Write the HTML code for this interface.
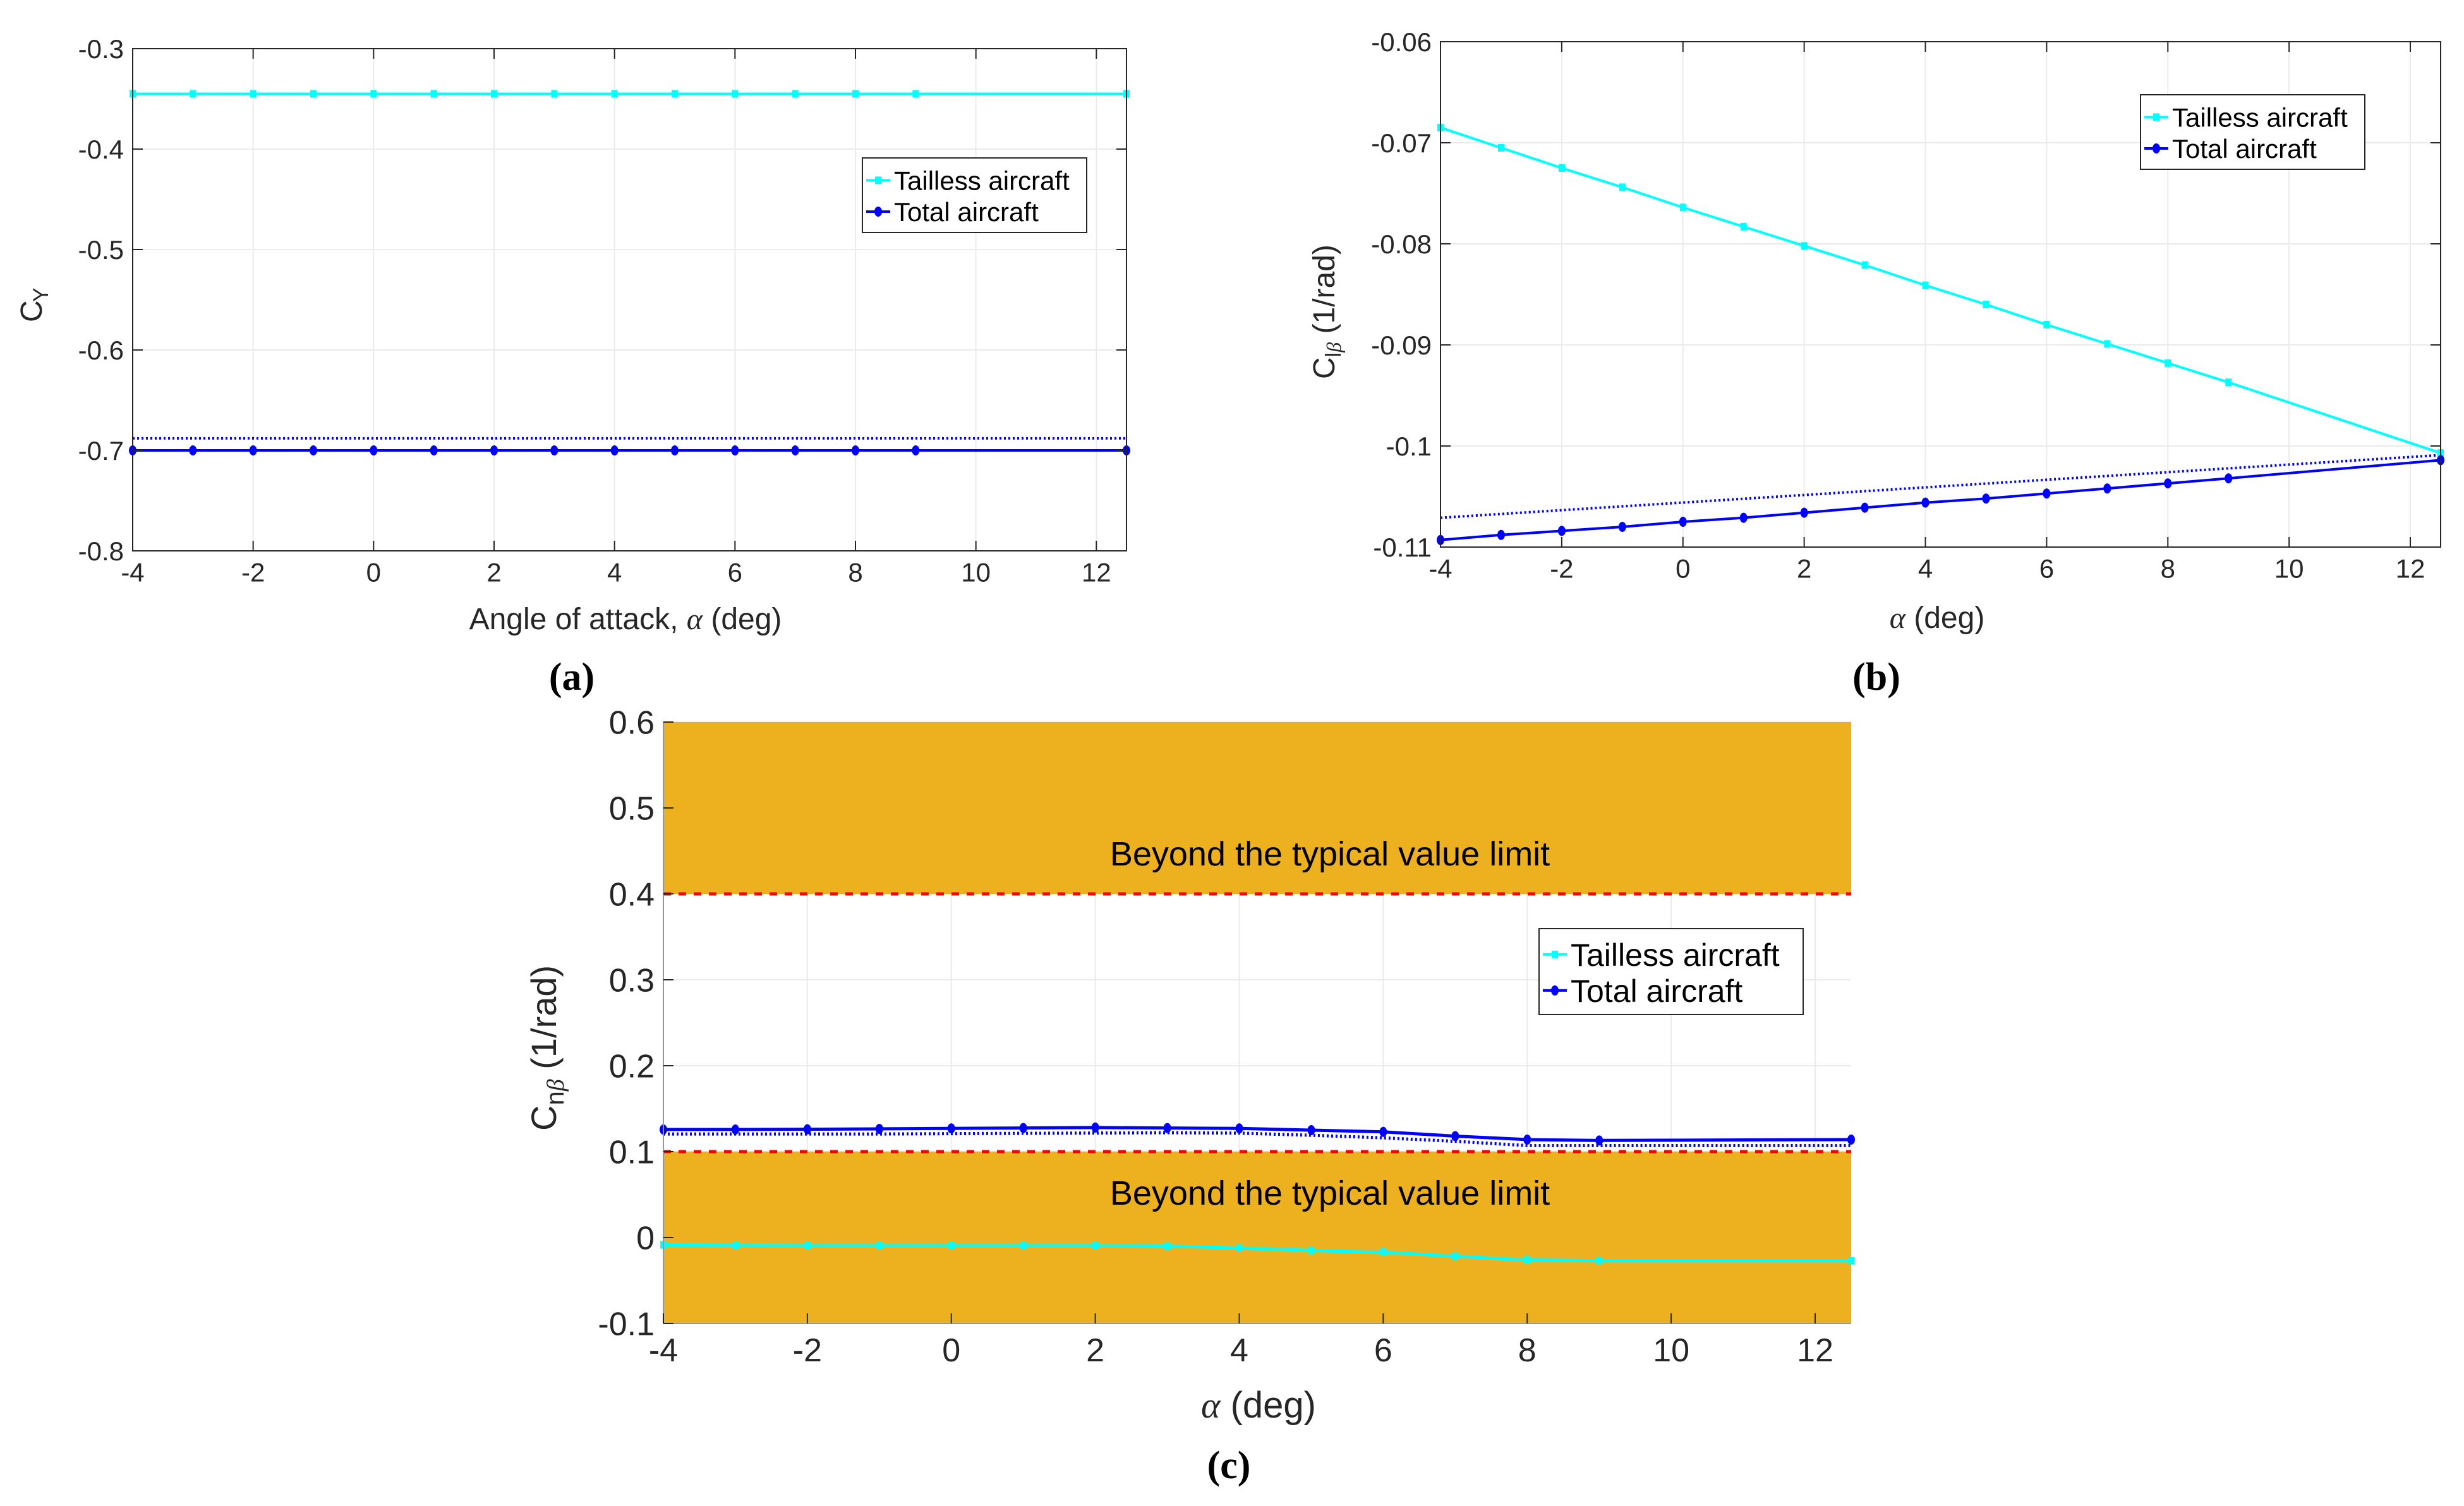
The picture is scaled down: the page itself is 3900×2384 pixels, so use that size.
<!DOCTYPE html>
<html><head><meta charset="utf-8"><style>
body{margin:0;background:#fff;}
svg{display:block;font-family:"Liberation Sans",sans-serif;}
</style></head><body>
<svg id="fig" width="3900" height="2384" viewBox="0 0 3900 2384" xmlns="http://www.w3.org/2000/svg"></svg>
<script>
// ---- data ----
const alphaInt = [-4,-3,-2,-1,0,1,2,3,4,5,6,7,8,9,12.5];
const alphaLine = [-4,12.5];
const xTicks = [-4,-2,0,2,4,6,8,10,12];
// panel a
const cyTailless = [-0.345,-0.345,-0.345,-0.345,-0.345,-0.345,-0.345,-0.345,-0.345,-0.345,-0.345,-0.345,-0.345,-0.345,-0.345];
const cyTotal = [-0.700,-0.700,-0.700,-0.700,-0.700,-0.700,-0.700,-0.700,-0.700,-0.700,-0.700,-0.700,-0.700,-0.700,-0.700];
const cyDotted = [-0.688,-0.688];
const aYTicks = [-0.8,-0.7,-0.6,-0.5,-0.4,-0.3];
const aYLabels = ["-0.8","-0.7","-0.6","-0.5","-0.4","-0.3"];
// panel b
const clbTailless = [-0.0685,-0.0705,-0.0725,-0.0744,-0.0764,-0.0783,-0.0802,-0.0821,-0.0841,-0.0860,-0.0880,-0.0899,-0.0918,-0.0937,-0.1007];
const clbTotal = [-0.1093,-0.1088,-0.1084,-0.1080,-0.1075,-0.1071,-0.1066,-0.1061,-0.1056,-0.1052,-0.1047,-0.1042,-0.1037,-0.1032,-0.1014];
const clbDotted = [-0.1071,-0.1009];
const bYTicks = [-0.11,-0.1,-0.09,-0.08,-0.07,-0.06];
const bYLabels = ["-0.11","-0.1","-0.09","-0.08","-0.07","-0.06"];
// panel c
const cnbTailless = [-0.0085,-0.0088,-0.009,-0.009,-0.009,-0.009,-0.009,-0.010,-0.012,-0.015,-0.017,-0.0217,-0.026,-0.027,-0.027];
const cnbTotal = [0.1257,0.1257,0.126,0.1265,0.127,0.1275,0.128,0.1275,0.127,0.125,0.123,0.118,0.114,0.113,0.114];
const alphaDotC = [-4,-1,3,4,5,6,7,8,12.5];
const cnbDotted = [0.1205,0.1205,0.122,0.1215,0.119,0.116,0.112,0.107,0.107];
const cYTicks = [-0.1,0,0.1,0.2,0.3,0.4,0.5,0.6];
const cYLabels = ["-0.1","0","0.1","0.2","0.3","0.4","0.5","0.6"];
const limitLow = 0.1, limitHigh = 0.4;

const NS="http://www.w3.org/2000/svg";
const svg=document.getElementById('fig');
function mk(tag,attrs,parent){const e=document.createElementNS(NS,tag);for(const k in attrs)e.setAttribute(k,attrs[k]);(parent||svg).appendChild(e);return e;}
function txt(s,attrs,parent){const e=mk('text',attrs,parent);e.textContent=s;return e;}

function axes(p){
  const sx=v=>p.l+(v-p.x0)/(p.x1-p.x0)*(p.r-p.l);
  const sy=v=>p.b-(v-p.y0)/(p.y1-p.y0)*(p.b-p.t);
  return {sx,sy};
}
function grid(g,p,A,yTicks,fs){
  xTicks.forEach(v=>{const x=A.sx(v);
    const gl=mk('line',{x1:x,x2:x,y1:p.t,y2:p.b,stroke:'#ebebeb','stroke-width':2},g);
    
    
  });
  yTicks.forEach(v=>{const y=A.sy(v);
    const gl=mk('line',{x1:p.l,x2:p.r,y1:y,y2:y,stroke:'#ebebeb','stroke-width':2},g);
    
    
  });
}
function ticks(g,p,A,yTicks,yLabels,fs,box){
  const col='#262626';
  xTicks.forEach(v=>{const x=A.sx(v);
    mk('line',{x1:x,x2:x,y1:p.b,y2:p.b-16,stroke:col,'stroke-width':2},g);
    if(box) mk('line',{x1:x,x2:x,y1:p.t,y2:p.t+16,stroke:col,'stroke-width':2},g);
    const t=txt(String(v),{x:x,y:p.b+fs*1.15,'font-size':fs,'text-anchor':'middle',fill:col},g);
    
    
  });
  yTicks.forEach((v,i)=>{const y=A.sy(v);
    mk('line',{x1:p.l,x2:p.l+16,y1:y,y2:y,stroke:col,'stroke-width':2},g);
    if(box) mk('line',{x1:p.r,x2:p.r-16,y1:y,y2:y,stroke:col,'stroke-width':2},g);
    const t=txt(yLabels[i],{x:p.l-14,y:y+fs*0.36,'font-size':fs,'text-anchor':'end',fill:col},g);
    
    
  });
}
function series(g,A,xs,ys,color,marker,name,w){
  const pts=xs.map((x,i)=>A.sx(x)+','+A.sy(ys[i])).join(' ');
  const pl=mk('polyline',{points:pts,fill:'none',stroke:color,'stroke-width':w||4,'stroke-linejoin':'round'},g);
  
  
  if(marker){
    xs.forEach((x,i)=>{
      let m;
      if(marker==='sq') m=mk('rect',{x:A.sx(x)-5,y:A.sy(ys[i])-6,width:10,height:12,fill:color},g);
      else m=mk('ellipse',{cx:A.sx(x),cy:A.sy(ys[i]),rx:6,ry:8,fill:color},g);
      
      
    });
  }
}
function dotted(g,A,xs,ys,name,w){
  const pts=xs.map((x,i)=>A.sx(x)+','+A.sy(ys[i])).join(' ');
  const pl=mk('polyline',{points:pts,fill:'none',stroke:'#0000ff','stroke-width':w||4,'stroke-dasharray':'3 4'},g);
  
  
}
function legend(g,x,y,w,h,fs,rows){
  const bx=mk('rect',{x:x,y:y,width:w,height:h,fill:'#fff',stroke:'#262626','stroke-width':2},g);
  
  
  rows.forEach((r,i)=>{
    const cy=y+h*(i===0?0.3:0.72);
    const lg=mk('g',{},g);
    
    
    mk('line',{x1:x+6,x2:x+44,y1:cy,y2:cy,stroke:r.c,'stroke-width':4},lg);
    if(r.m==='sq') mk('rect',{x:x+20,y:cy-6,width:10,height:12,fill:r.c},lg);
    else mk('ellipse',{cx:x+25,cy:cy,rx:6,ry:8,fill:r.c},lg);
    txt(r.t,{x:x+50,y:cy+fs*0.36,'font-size':fs,fill:'#000'},lg);
  });
}

// ===== Panel a =====
(function(){
  const p={l:210,r:1783,t:77,b:872,x0:-4,x1:12.5,y0:-0.8,y1:-0.3};
  const A=axes(p);
  const g=mk('g',{});
  
  
  grid(g,p,A,aYTicks);
  dotted(g,A,alphaLine,cyDotted,'total-dotted-line');
  series(g,A,alphaInt,cyTailless,'#00ffff','sq','tailless');
  series(g,A,alphaInt,cyTotal,'#0000ff','o','total');
  const fr=mk('rect',{x:p.l,y:p.t,width:p.r-p.l,height:p.b-p.t,fill:'none',stroke:'#262626','stroke-width':2},g);
   
  ticks(g,p,A,aYTicks,aYLabels,42,true);
  const yl=txt('C',{x:0,y:0,'font-size':48,fill:'#262626',transform:'translate(66,510) rotate(-90)'},g);
   
  const ys=txt('Y',{x:0,y:0,'font-size':34,fill:'#262626',transform:'translate(76,478) rotate(-90)'},g);
   
  const xl=txt('',{x:990,y:996,'font-size':48,'text-anchor':'middle',fill:'#262626'},g);
  xl.innerHTML='Angle of attack, <tspan font-family="Liberation Serif" font-style="italic">α</tspan> (deg)';
   
  legend(g,1365,250,355,118,42,[{t:'Tailless aircraft',c:'#00ffff',m:'sq'},{t:'Total aircraft',c:'#0000ff',m:'o'}]);
  const pl=txt('(a)',{x:905,y:1092,'font-size':62,'font-weight':'bold','font-family':'Liberation Serif','text-anchor':'middle',fill:'#000'},g);
   
})();

// ===== Panel b =====
(function(){
  const p={l:2280,r:3863,t:66,b:866,x0:-4,x1:12.5,y0:-0.11,y1:-0.06};
  const A=axes(p);
  const g=mk('g',{});
  
  
  grid(g,p,A,bYTicks);
  dotted(g,A,alphaLine,clbDotted,'total-dotted-line');
  series(g,A,alphaInt,clbTailless,'#00ffff','sq','tailless');
  series(g,A,alphaInt,clbTotal,'#0000ff','o','total');
  const fr=mk('rect',{x:p.l,y:p.t,width:p.r-p.l,height:p.b-p.t,fill:'none',stroke:'#262626','stroke-width':2},g);
   
  ticks(g,p,A,bYTicks,bYLabels,42,true);
  const yl=txt('',{x:0,y:0,'font-size':48,fill:'#262626',transform:'translate(2112,600) rotate(-90)'},g);
  yl.innerHTML='C<tspan font-size="34" dy="10">l</tspan><tspan font-size="32" dy="0" font-family="Liberation Serif" font-style="italic">β</tspan><tspan dy="-10"> (1/rad)</tspan>';
   
  const xl=txt('',{x:3066,y:994,'font-size':48,'text-anchor':'middle',fill:'#262626'},g);
  xl.innerHTML='<tspan font-family="Liberation Serif" font-style="italic">α</tspan> (deg)';
   
  legend(g,3388,150,355,118,42,[{t:'Tailless aircraft',c:'#00ffff',m:'sq'},{t:'Total aircraft',c:'#0000ff',m:'o'}]);
  const pl=txt('(b)',{x:2970,y:1092,'font-size':62,'font-weight':'bold','font-family':'Liberation Serif','text-anchor':'middle',fill:'#000'},g);
   
})();

// ===== Panel c =====
(function(){
  const p={l:1050,r:2930,t:1143,b:2095,x0:-4,x1:12.5,y0:-0.1,y1:0.6};
  const A=axes(p);
  const g=mk('g',{});
  
  
  grid(g,p,A,cYTicks);
  const hi=mk('rect',{x:p.l,y:A.sy(p.y1),width:p.r-p.l,height:A.sy(limitHigh)-A.sy(p.y1),fill:'#EDB120'},g);
   
  const lo=mk('rect',{x:p.l,y:A.sy(limitLow),width:p.r-p.l,height:A.sy(p.y0)-A.sy(limitLow),fill:'#EDB120'},g);
   
  [limitHigh,limitLow].forEach(v=>{
    const l=mk('line',{x1:p.l,x2:p.r,y1:A.sy(v),y2:A.sy(v),stroke:'#ff0000','stroke-width':5,'stroke-dasharray':'12 12'},g);
     
  });
  dotted(g,A,alphaDotC,cnbDotted,'total-dotted-line',5);
  series(g,A,alphaInt,cnbTailless,'#00ffff','sq','tailless',5);
  series(g,A,alphaInt,cnbTotal,'#0000ff','o','total',5);
  mk('line',{x1:p.l,x2:p.l,y1:p.t,y2:p.b,stroke:'#999','stroke-width':2},g);
  mk('line',{x1:p.l,x2:p.r,y1:p.b,y2:p.b,stroke:'#999','stroke-width':2},g);
  ticks(g,p,A,cYTicks,cYLabels,52,false);
  [A.sy(0.5)+ (A.sy(limitHigh)-A.sy(0.5))*0.55, A.sy(0.05)].forEach(y=>{
    const t=txt('Beyond the typical value limit',{x:2105,y:y+16,'font-size':54,'text-anchor':'middle',fill:'#000'},g);
     
  });
  const yl=txt('',{x:0,y:0,'font-size':56,fill:'#262626',transform:'translate(880,1790) rotate(-90)'},g);
  yl.innerHTML='C<tspan font-size="40" dy="12">n</tspan><tspan font-size="38" font-family="Liberation Serif" font-style="italic">β</tspan><tspan dy="-12"> (1/rad)</tspan>';
   
  const xl=txt('',{x:1992,y:2244,'font-size':58,'text-anchor':'middle',fill:'#262626'},g);
  xl.innerHTML='<tspan font-family="Liberation Serif" font-style="italic">α</tspan> (deg)';
   
  legend(g,2436,1470,418,136,50,[{t:'Tailless aircraft',c:'#00ffff',m:'sq'},{t:'Total aircraft',c:'#0000ff',m:'o'}]);
  const pl=txt('(c)',{x:1945,y:2340,'font-size':62,'font-weight':'bold','font-family':'Liberation Serif','text-anchor':'middle',fill:'#000'},g);
   
})();
</script>
</body></html>
